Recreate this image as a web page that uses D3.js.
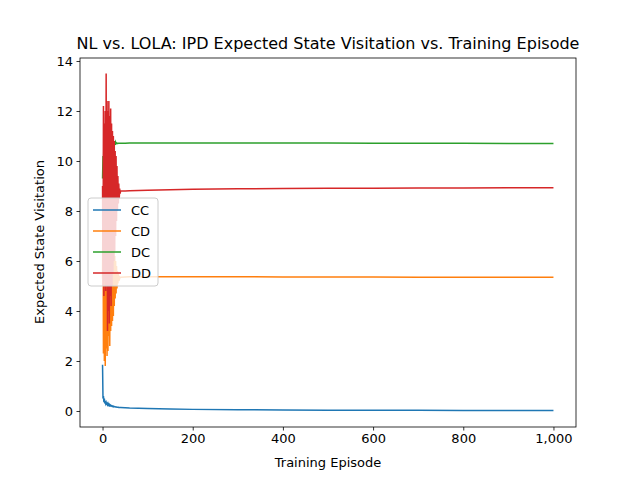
<!DOCTYPE html>
<html><head><meta charset="utf-8">
<script src="https://cdn.jsdelivr.net/npm/d3@7"></script>
<style>body{margin:0;background:#fff}text{font-family:"DejaVu Sans",sans-serif}</style>
</head><body><div id="chart"></div>
<script>
var episodes = d3.range(0, 41).concat([50, 60, 80, 100, 150, 200, 300, 400, 500, 600, 700, 800, 900, 1000]);
var seriesNames = ["CC", "CD", "DC", "DD"];
var colors = ["#1f77b4", "#ff7f0e", "#2ca02c", "#d62728"];
var cc = [1.85, 0.5, 0.6, 0.35, 0.5, 0.3, 0.4, 0.3, 0.35, 0.28, 0.3, 0.25, 0.3, 0.24, 0.27, 0.22, 0.25, 0.21, 0.23, 0.2, 0.21, 0.19, 0.2, 0.18, 0.19, 0.17, 0.18, 0.17, 0.17, 0.16, 0.16, 0.16, 0.15, 0.15, 0.15, 0.15, 0.14, 0.14, 0.14, 0.14, 0.14,
  0.13, 0.12, 0.11, 0.1, 0.08, 0.065, 0.05, 0.04, 0.035, 0.03, 0.028, 0.025, 0.022, 0.02];
var cd = [5.3, 8.8, 2.3, 8.5, 2.0, 8.4, 1.8, 8.0, 2.5, 7.8, 2.2, 7.6, 2.4, 7.5, 3.0, 7.2, 2.6, 7.0, 3.2, 6.9, 3.4, 6.8, 3.6, 6.6, 3.8, 6.4, 4.2, 6.2, 4.5, 6.0, 4.7, 5.8, 4.9, 5.6, 5.1, 5.5, 5.2, 5.4, 5.3, 5.35, 5.35,
  5.36, 5.37, 5.37, 5.37, 5.37, 5.37, 5.37, 5.36, 5.36, 5.36, 5.35, 5.35, 5.35, 5.35];
var dc = [9.3, 10.2, 9.6, 10.8, 9.8, 11.0, 9.9, 11.2, 10.0, 11.1, 10.2, 11.0, 10.3, 10.9, 10.4, 10.9, 10.5, 10.8, 10.6, 10.85, 10.6, 11.0, 10.5, 10.9, 10.5, 10.8, 10.6, 10.8, 10.65, 10.75, 10.7, 10.72, 10.7, 10.71, 10.7, 10.71, 10.71, 10.71, 10.71, 10.71, 10.71,
  10.71, 10.72, 10.72, 10.72, 10.72, 10.72, 10.72, 10.72, 10.72, 10.71, 10.71, 10.71, 10.7, 10.7];
var dd = [9.0, 5.0, 12.2, 4.6, 11.5, 5.2, 12.0, 4.8, 13.5, 5.0, 12.4, 3.2, 12.0, 4.0, 12.4, 3.5, 11.8, 4.6, 12.1, 4.2, 11.5, 5.0, 11.2, 5.5, 11.0, 6.0, 10.8, 6.4, 10.4, 7.0, 10.2, 7.6, 9.8, 8.0, 9.4, 8.3, 9.1, 8.5, 8.9, 8.7, 8.8,
  8.8, 8.81, 8.82, 8.83, 8.85, 8.87, 8.89, 8.9, 8.91, 8.91, 8.92, 8.92, 8.93, 8.93];
var xTicks = [0, 200, 400, 600, 800, 1000];
var yTicks = [0, 2, 4, 6, 8, 10, 12, 14];
var allSeries = [cc, cd, dc, dd];

var svg = d3.select("#chart").append("svg").attr("width", 640).attr("height", 480);
var margin = {left: 80, right: 64, top: 58, bottom: 53};
var x = d3.scaleLinear().domain([-50, 1050]).range([margin.left, 640 - margin.right]);
var y = d3.scaleLinear().domain([-0.64, 14.12]).range([480 - margin.bottom, margin.top]);

var line = d3.line().x(function (d, i) { return x(episodes[i]); }).y(function (d) { return y(d); });
allSeries.forEach(function (s, k) {
  svg.append("path").attr("d", line(s)).attr("fill", "none")
    .attr("stroke", colors[k]).attr("stroke-width", 1.5);
});

svg.append("rect").attr("x", margin.left).attr("y", margin.top)
  .attr("width", 640 - margin.left - margin.right).attr("height", 480 - margin.top - margin.bottom)
  .attr("fill", "none").attr("stroke", "#000").attr("stroke-width", 0.8);

var xa = svg.append("g").attr("transform", "translate(0," + (480 - margin.bottom) + ")")
  .call(d3.axisBottom(x).tickValues(xTicks).tickSize(3.5).tickPadding(3.5));
var ya = svg.append("g").attr("transform", "translate(" + margin.left + ",0)")
  .call(d3.axisLeft(y).tickValues(yTicks).tickSize(3.5).tickPadding(3.5));
[xa, ya].forEach(function (a) {
  a.select(".domain").remove();
  a.selectAll("text").attr("font-size", 13).attr("font-family", "DejaVu Sans").attr("fill", "#000");
  a.selectAll("line").attr("stroke", "#000").attr("stroke-width", 0.8);
});

svg.append("text").attr("x", 328).attr("y", 49).attr("text-anchor", "middle")
  .attr("font-size", 16).text("NL vs. LOLA: IPD Expected State Visitation vs. Training Episode");
svg.append("text").attr("x", 328).attr("y", 467).attr("text-anchor", "middle")
  .attr("font-size", 13).text("Training Episode");
svg.append("text").attr("transform", "translate(44,242) rotate(-90)").attr("text-anchor", "middle")
  .attr("font-size", 13).text("Expected State Visitation");

var lg = svg.append("g");
lg.append("rect").attr("x", 88).attr("y", 198).attr("width", 70).attr("height", 88).attr("rx", 3)
  .attr("fill", "#fff").attr("fill-opacity", 0.8).attr("stroke", "#ccc").attr("stroke-width", 1);
seriesNames.forEach(function (n, k) {
  var yy = 210 + k * 21;
  lg.append("line").attr("x1", 93).attr("x2", 121).attr("y1", yy).attr("y2", yy)
    .attr("stroke", colors[k]).attr("stroke-width", 1.5);
  lg.append("text").attr("x", 131).attr("y", yy + 5).attr("font-size", 13).text(n);
});
</script></body></html>
